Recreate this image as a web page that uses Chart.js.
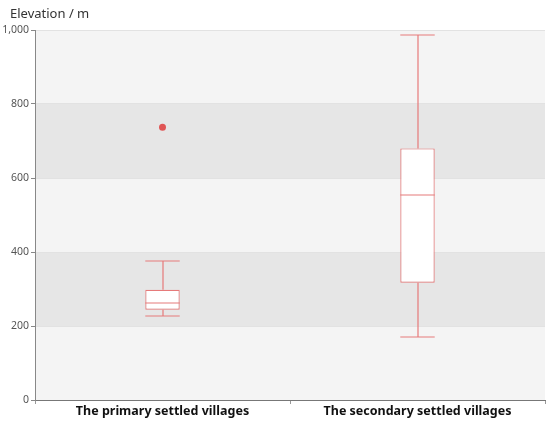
<!DOCTYPE html>
<html>
<head>
<meta charset="utf-8">
<script src="https://cdn.jsdelivr.net/npm/chart.js@4/dist/chart.umd.min.js"></script>
<style>
  body { margin: 0; background: #fff; }
  #wrap { width: 550px; height: 422px; }
</style>
</head>
<body>
<div id="wrap"><canvas id="boxChart"></canvas></div>
<script>
var categories = ['The primary settled villages', 'The secondary settled villages'];
var whiskerLow = [228, 171];
var q1 = [244, 317];
var median = [262, 553];
var q3 = [298, 680];
var whiskerHigh = [377, 986];
var outliers = [737, null];
var yTicks = [0, 200, 400, 600, 800, 1000];

var boxColor = '#e67a7a';

// alternating background bands
var bandPlugin = {
    id: 'bands',
    beforeDraw: function (chart) {
        var ctx = chart.ctx, area = chart.chartArea, y = chart.scales.y;
        ctx.save();
        for (var i = 0; i < yTicks.length - 1; i++) {
            var top = y.getPixelForValue(yTicks[i + 1]);
            var bottom = y.getPixelForValue(yTicks[i]);
            ctx.fillStyle = (i % 2 === 1) ? '#e6e6e6' : '#f4f4f4';
            ctx.fillRect(area.left, top, area.right - area.left, bottom - top);
        }
        ctx.restore();
    }
};

// whiskers and median for the floating bars
var whiskerPlugin = {
    id: 'whiskers',
    afterDatasetsDraw: function (chart) {
        var ctx = chart.ctx, y = chart.scales.y;
        var meta = chart.getDatasetMeta(0);
        ctx.save();
        ctx.strokeStyle = boxColor;
        ctx.lineWidth = 1.2;
        meta.data.forEach(function (bar, i) {
            var half = bar.width / 2;
            var x = Math.round(bar.x);
            var yHi = Math.round(y.getPixelForValue(whiskerHigh[i]));
            var yLo = Math.round(y.getPixelForValue(whiskerLow[i]));
            var yQ3 = y.getPixelForValue(q3[i]);
            var yQ1 = y.getPixelForValue(q1[i]);
            var yMed = Math.round(y.getPixelForValue(median[i]));
            ctx.beginPath();
            ctx.moveTo(x, yHi); ctx.lineTo(x, yQ3);
            ctx.moveTo(x, yQ1); ctx.lineTo(x, yLo);
            ctx.moveTo(bar.x - half, yHi); ctx.lineTo(bar.x + half, yHi);
            ctx.moveTo(bar.x - half, yLo); ctx.lineTo(bar.x + half, yLo);
            ctx.moveTo(bar.x - half, yMed); ctx.lineTo(bar.x + half, yMed);
            ctx.stroke();
        });
        ctx.restore();
    }
};

// axis title in the top left corner
var axisTitlePlugin = {
    id: 'axisTitle',
    afterDraw: function (chart) {
        var ctx = chart.ctx;
        ctx.save();
        ctx.font = '13px "Noto Sans", sans-serif';
        ctx.fillStyle = '#333';
        ctx.textBaseline = 'middle';
        ctx.fillText('Elevation / m', 10, 14);
        ctx.restore();
    }
};

var boxData = q1.map(function (v, i) { return [v, q3[i]]; });

new Chart(document.getElementById('boxChart').getContext('2d'), {
    type: 'bar',
    data: {
        labels: categories,
        datasets: [
            {
                data: boxData,
                backgroundColor: '#ffffff',
                borderColor: boxColor,
                borderWidth: 1.2,
                borderSkipped: false,
                barPercentage: 0.135,
                categoryPercentage: 1
            },
            {
                type: 'line',
                data: outliers,
                showLine: false,
                pointRadius: 3.5,
                pointBackgroundColor: '#e05555',
                pointBorderColor: '#e05555',
                pointBorderWidth: 0
            }
        ]
    },
    options: {
        responsive: true,
        maintainAspectRatio: false,
        animation: false,
        layout: { padding: { top: 30, right: 5, left: 0, bottom: 3 } },
        plugins: {
            legend: { display: false },
            tooltip: { enabled: false }
        },
        scales: {
            x: {
                grid: { drawOnChartArea: false, color: '#999', tickLength: 4 },
                border: { color: '#777' },
                ticks: {
                    color: '#111',
                    padding: 0,
                    font: { family: '"Noto Sans", sans-serif', size: 12.5, weight: 'bold' }
                }
            },
            y: {
                min: 0,
                max: 1000,
                afterBuildTicks: function (axis) {
                    axis.ticks = yTicks.map(function (v) { return { value: v }; });
                },
                afterFit: function (axis) { axis.width = 35; },
                grid: { color: '#e2e2e2', tickColor: '#888', tickLength: 4 },
                border: { color: '#888' },
                ticks: {
                    color: '#555',
                    padding: 2,
                    font: { family: '"Noto Sans", sans-serif', size: 10.5 },
                    callback: function (v) { return v.toLocaleString('en-US'); }
                }
            }
        }
    },
    plugins: [bandPlugin, whiskerPlugin, axisTitlePlugin]
});
</script>
</body>
</html>
